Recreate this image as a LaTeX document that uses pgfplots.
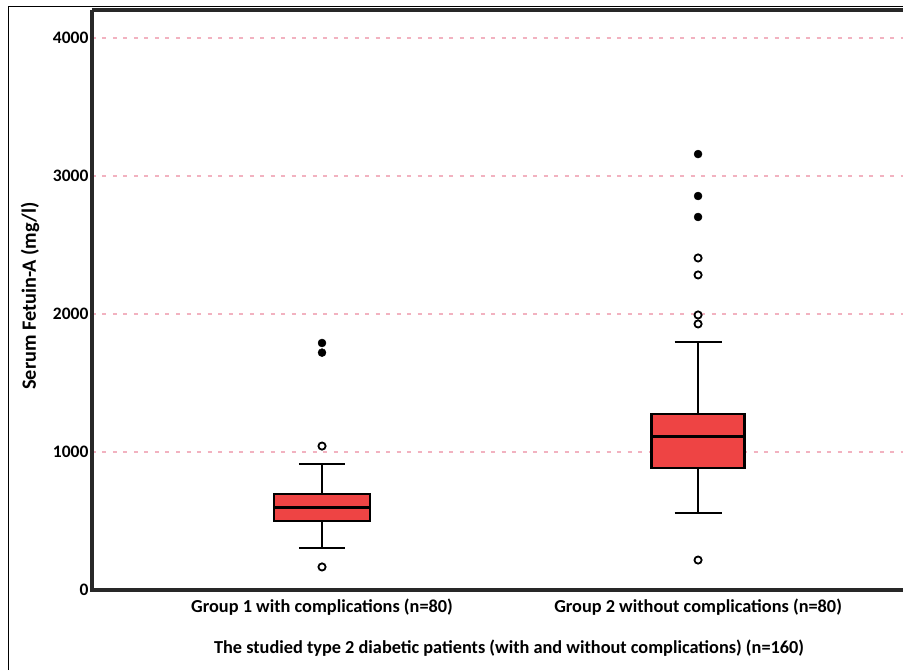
\documentclass[border=0pt]{standalone}
\usepackage{pgfplots}
\pgfplotsset{compat=1.18}
\usepgfplotslibrary{statistics}
\usepackage{fontspec}
\setmainfont{Carlito}
\definecolor{boxred}{RGB}{238,68,68}
\definecolor{gridpink}{RGB}{242,178,192}
\definecolor{axisgray}{RGB}{40,40,40}
\begin{document}
\begin{tikzpicture}
\useasboundingbox (-92pt,-80pt) rectangle (811pt,590pt);
\begin{axis}[
  at={(0pt,0pt)}, anchor=south west,
  scale only axis, width=811pt, height=580pt,
  xmin=0.3883, xmax=2.545, ymin=0, ymax=4203,
  axis line style={draw=none},
  xtick={1,2},
  xticklabels={Group 1 with complications (n=80), Group 2 without complications (n=80)},
  ytick={0,1000,2000,3000,4000},
  yticklabels={0,1000,2000,3000,4000},
  tick style={draw=none},
  ymajorgrids,
  grid style={gridpink, line width=1.3pt, dash pattern=on 4pt off 6.5pt},
  xticklabel style={font=\bfseries\fontsize{18.3}{21}\selectfont, anchor=center, yshift=-17pt},
  yticklabel style={font=\bfseries\fontsize{17.5}{20}\selectfont},
  clip=false,
  boxplot/draw direction=y,
  boxplot/every box/.style={fill=boxred, draw=black, line width=2.6pt},
  boxplot/every median/.style={draw=black, line width=3pt},
  boxplot/every whisker/.style={draw=black, line width=2pt},
]
\addplot[boxplot prepared={draw position=1, lower whisker=304, lower quartile=500,
  median=601, upper quartile=696, upper whisker=913, box extend=0.255, whisker extend=0.123}]
  coordinates {};
\addplot[boxplot prepared={draw position=2, lower whisker=558, lower quartile=884,
  median=1109, upper quartile=1275, upper whisker=1797, box extend=0.248, whisker extend=0.125}]
  coordinates {};
\addplot[only marks, mark=o, mark size=3.6pt, mark options={line width=1.8pt, draw=black}]
  coordinates {(1,1043) (1,167) (2,217) (2,1928) (2,1993) (2,2283) (2,2406)};
\addplot[only marks, mark=*, mark size=4pt, black, mark options={fill=black}]
  coordinates {(1,1790) (1,1720) (2,2703) (2,2855) (2,3159)};
\draw[axisgray, line width=4pt] (rel axis cs:0,1) -- (rel axis cs:0,0) -- (rel axis cs:1,0);
\draw[axisgray, line width=4pt] (rel axis cs:0,1) -- (rel axis cs:1,1);
\end{axis}
\draw[black, line width=1pt] (-83pt,-80pt) -- (-83pt,583pt) -- (811pt,583pt);
\node[font=\bfseries\fontsize{18.3}{21}\selectfont] at (417pt,-58pt)
  {The studied type 2 diabetic patients (with and without complications) (n=160)};
\node[rotate=90, font=\bfseries\fontsize{20.3}{23}\selectfont] at (-62pt,294pt)
  {Serum Fetuin-A (mg/l)};
\end{tikzpicture}
\end{document}
